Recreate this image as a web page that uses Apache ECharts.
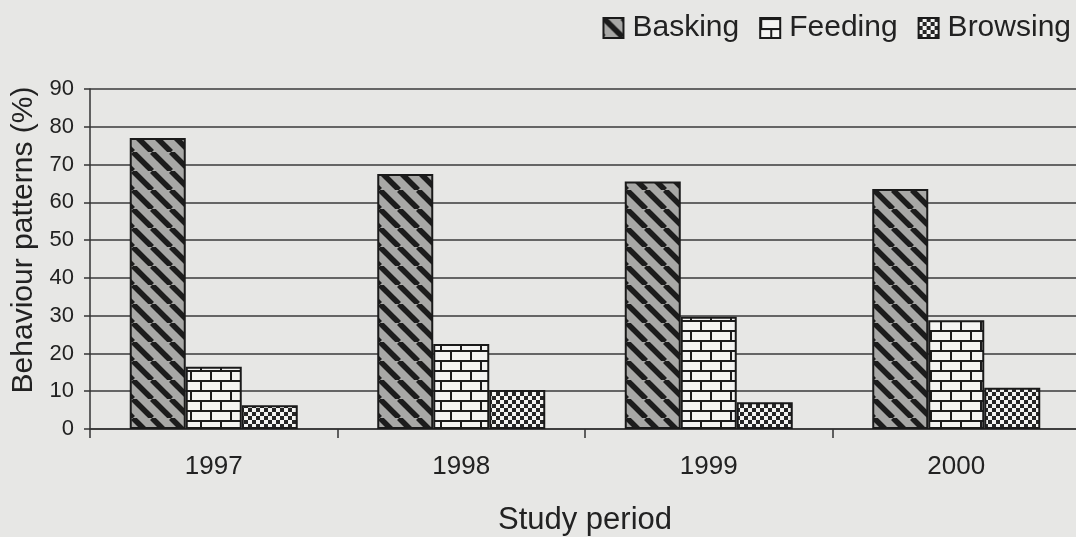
<!DOCTYPE html>
<html lang="en">
<head>
    <meta charset="UTF-8">
    <title>Behaviour patterns</title>
    <script src="https://cdn.jsdelivr.net/npm/echarts@6/dist/echarts.min.js"></script>
    <style>
        html, body { margin: 0; padding: 0; background: #e7e7e5; }
        #chart { width: 1076px; height: 537px; }
    </style>
</head>
<body>
<div id="chart"></div>
<script type="text/javascript">
    // values
    let years = ['1997', '1998', '1999', '2000'];
    let basking = [77, 67.5, 65.5, 63.5];
    let feeding = [16.5, 22.5, 29.7, 28.8];
    let browsing = [6.3, 10.3, 7.1, 10.9];

    // hatch fills, drawn once on small canvases
    function tile(w, h, draw) {
        let c = document.createElement('canvas');
        c.width = w;
        c.height = h;
        draw(c.getContext('2d'));
        return { image: c, repeat: 'repeat' };
    }

    let stripes = tile(19, 19, function (ctx) {
        ctx.fillStyle = '#a8a8a6';
        ctx.fillRect(0, 0, 19, 19);
        ctx.strokeStyle = '#1c1c1c';
        ctx.lineWidth = 5.5;
        [-19, 0, 19].forEach(function (k) {
            ctx.beginPath();
            ctx.moveTo(k, 0);
            ctx.lineTo(k + 19, 19);
            ctx.stroke();
        });
    });

    let bricks = tile(20, 20, function (ctx) {
        ctx.fillStyle = '#f4f4f2';
        ctx.fillRect(0, 0, 20, 20);
        ctx.fillStyle = '#1c1c1c';
        ctx.fillRect(0, 0, 20, 2);
        ctx.fillRect(0, 10, 20, 2);
        ctx.fillRect(0, 0, 2, 10);
        ctx.fillRect(10, 10, 2, 10);
    });

    let checks = tile(8, 8, function (ctx) {
        ctx.fillStyle = '#f4f4f2';
        ctx.fillRect(0, 0, 8, 8);
        ctx.fillStyle = '#262626';
        ctx.fillRect(0, 0, 4, 4);
        ctx.fillRect(4, 4, 4, 4);
    });

    function bar(name, data, fill) {
        return {
            name: name,
            type: 'bar',
            data: data,
            barWidth: 56,
            barGap: '0%',
            itemStyle: { color: fill, borderColor: '#1a1a1a', borderWidth: 2 },
            emphasis: { disabled: true }
        };
    }

    let font = 'Liberation Sans, Arial, sans-serif';

    let option = {
        backgroundColor: '#e7e7e5',
        animation: false,
        textStyle: { fontFamily: font, color: '#222' },
        legend: {
            right: 0,
            top: 8,
            itemWidth: 20,
            itemHeight: 20,
            itemGap: 20,
            icon: 'rect',
            textStyle: { fontSize: 30, color: '#222', fontFamily: font, padding: [0, 0, 0, 4] },
            data: ['Basking', 'Feeding', 'Browsing']
        },
        grid: { left: 90, top: 89, width: 990, height: 340, outerBoundsMode: 'none' },
        xAxis: {
            type: 'category',
            data: years,
            name: 'Study period',
            nameLocation: 'middle',
            nameGap: 76,
            nameTextStyle: { fontSize: 31, color: '#222' },
            axisLine: { lineStyle: { color: '#333', width: 1.5 } },
            axisTick: { show: true, length: 9, lineStyle: { color: '#333', width: 1.5 } },
            axisLabel: { fontSize: 26, color: '#222', margin: 25 }
        },
        yAxis: {
            type: 'value',
            min: 0,
            max: 90,
            interval: 10,
            name: 'Behaviour patterns (%)',
            nameLocation: 'middle',
            nameGap: 51,
            nameTextStyle: { fontSize: 30, color: '#222', padding: [0, 0, 0, 38] },
            axisLine: { show: true, lineStyle: { color: '#333', width: 1.5 } },
            axisTick: { show: true, length: 6, lineStyle: { color: '#333', width: 1.5 } },
            axisLabel: { fontSize: 22, color: '#222', margin: 16 },
            splitLine: { lineStyle: { color: '#3a3a3a', width: 1.5 } }
        },
        series: [
            bar('Basking', basking, stripes),
            bar('Feeding', feeding, bricks),
            bar('Browsing', browsing, checks)
        ]
    };

    let myChart = echarts.init(document.getElementById('chart'));
    myChart.setOption(option);
</script>
</body>
</html>
